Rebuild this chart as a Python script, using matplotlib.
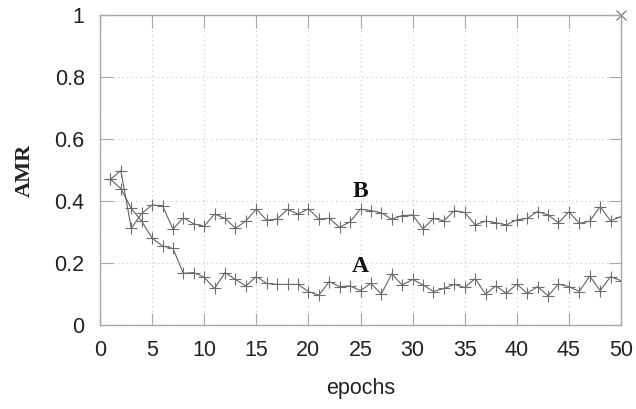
import matplotlib
matplotlib.use("Agg")
import matplotlib.pyplot as plt
import numpy as np

matplotlib.rcParams["font.family"] = ["Liberation Sans", "DejaVu Sans"]

epochs = np.arange(1, 51)

amr_a = [0.47, 0.44, 0.376, 0.335, 0.28, 0.255, 0.247, 0.167, 0.169, 0.154,
         0.118, 0.169, 0.147, 0.126, 0.156, 0.134, 0.131, 0.131, 0.131, 0.108,
         0.096, 0.14, 0.124, 0.126, 0.111, 0.134, 0.1, 0.165, 0.129, 0.147,
         0.129, 0.108, 0.118, 0.131, 0.121, 0.15, 0.1, 0.126, 0.102, 0.132,
         0.102, 0.124, 0.094, 0.132, 0.124, 0.108, 0.158, 0.111, 0.156, 0.143]

amr_b = [0.47, 0.498, 0.312, 0.36, 0.387, 0.385, 0.309, 0.346, 0.326, 0.319,
         0.358, 0.344, 0.312, 0.336, 0.374, 0.338, 0.342, 0.373, 0.358, 0.375,
         0.342, 0.344, 0.315, 0.333, 0.374, 0.369, 0.362, 0.341, 0.353, 0.355,
         0.31, 0.344, 0.336, 0.369, 0.363, 0.323, 0.335, 0.33, 0.323, 0.339,
         0.344, 0.366, 0.355, 0.33, 0.365, 0.328, 0.335, 0.382, 0.336, 0.35]

LINE = "#5a5a5a"
MARK = "#6e6e6e"
SPINE = "#a8a8a8"

fig = plt.figure(figsize=(6.36, 4.09), dpi=100)
ax = fig.add_axes([100 / 636, 1 - 325 / 409, 521 / 636, 310 / 409])

for vals in (amr_a, amr_b):
    ax.plot(epochs, vals, color=LINE, linewidth=0.75, marker="+", markersize=8,
            markeredgecolor=MARK, markeredgewidth=0.8)

# stray marker in the top-right corner
ax.plot([50], [1], marker="x", markersize=7, color=MARK, markeredgewidth=0.8,
        clip_on=False, linestyle="none")

ax.set_xlim(0, 50)
ax.set_ylim(0, 1)
ax.set_xticks(np.arange(0, 51, 5))
ax.set_yticks([0, 0.2, 0.4, 0.6, 0.8, 1])
ax.set_yticklabels(["0", "0.2", "0.4", "0.6", "0.8", "1"])

ax.tick_params(direction="in", length=9, width=0.8, color=SPINE,
               top=True, right=True, labelsize=15.5, pad=11, labelcolor="#222222")

for s in ax.spines.values():
    s.set_color(SPINE)
    s.set_linewidth(1.0)

ax.grid(True, color="#c8c8c8", linestyle=(0, (1, 3)), linewidth=0.8)

ax.set_xlabel("epochs", fontsize=15.5, color="#222222", labelpad=12)
ax.set_ylabel("AMR", fontsize=16, fontweight="bold", family="Liberation Serif",
              color="#222222", labelpad=14)

ax.text(25, 0.43, "B", fontsize=17, fontweight="bold", family="Liberation Serif",
        ha="center", va="center", color="#111111")
ax.text(25, 0.188, "A", fontsize=17, fontweight="bold", family="Liberation Serif",
        ha="center", va="center", color="#111111")

fig.savefig("out.png", dpi=100, facecolor="white")
